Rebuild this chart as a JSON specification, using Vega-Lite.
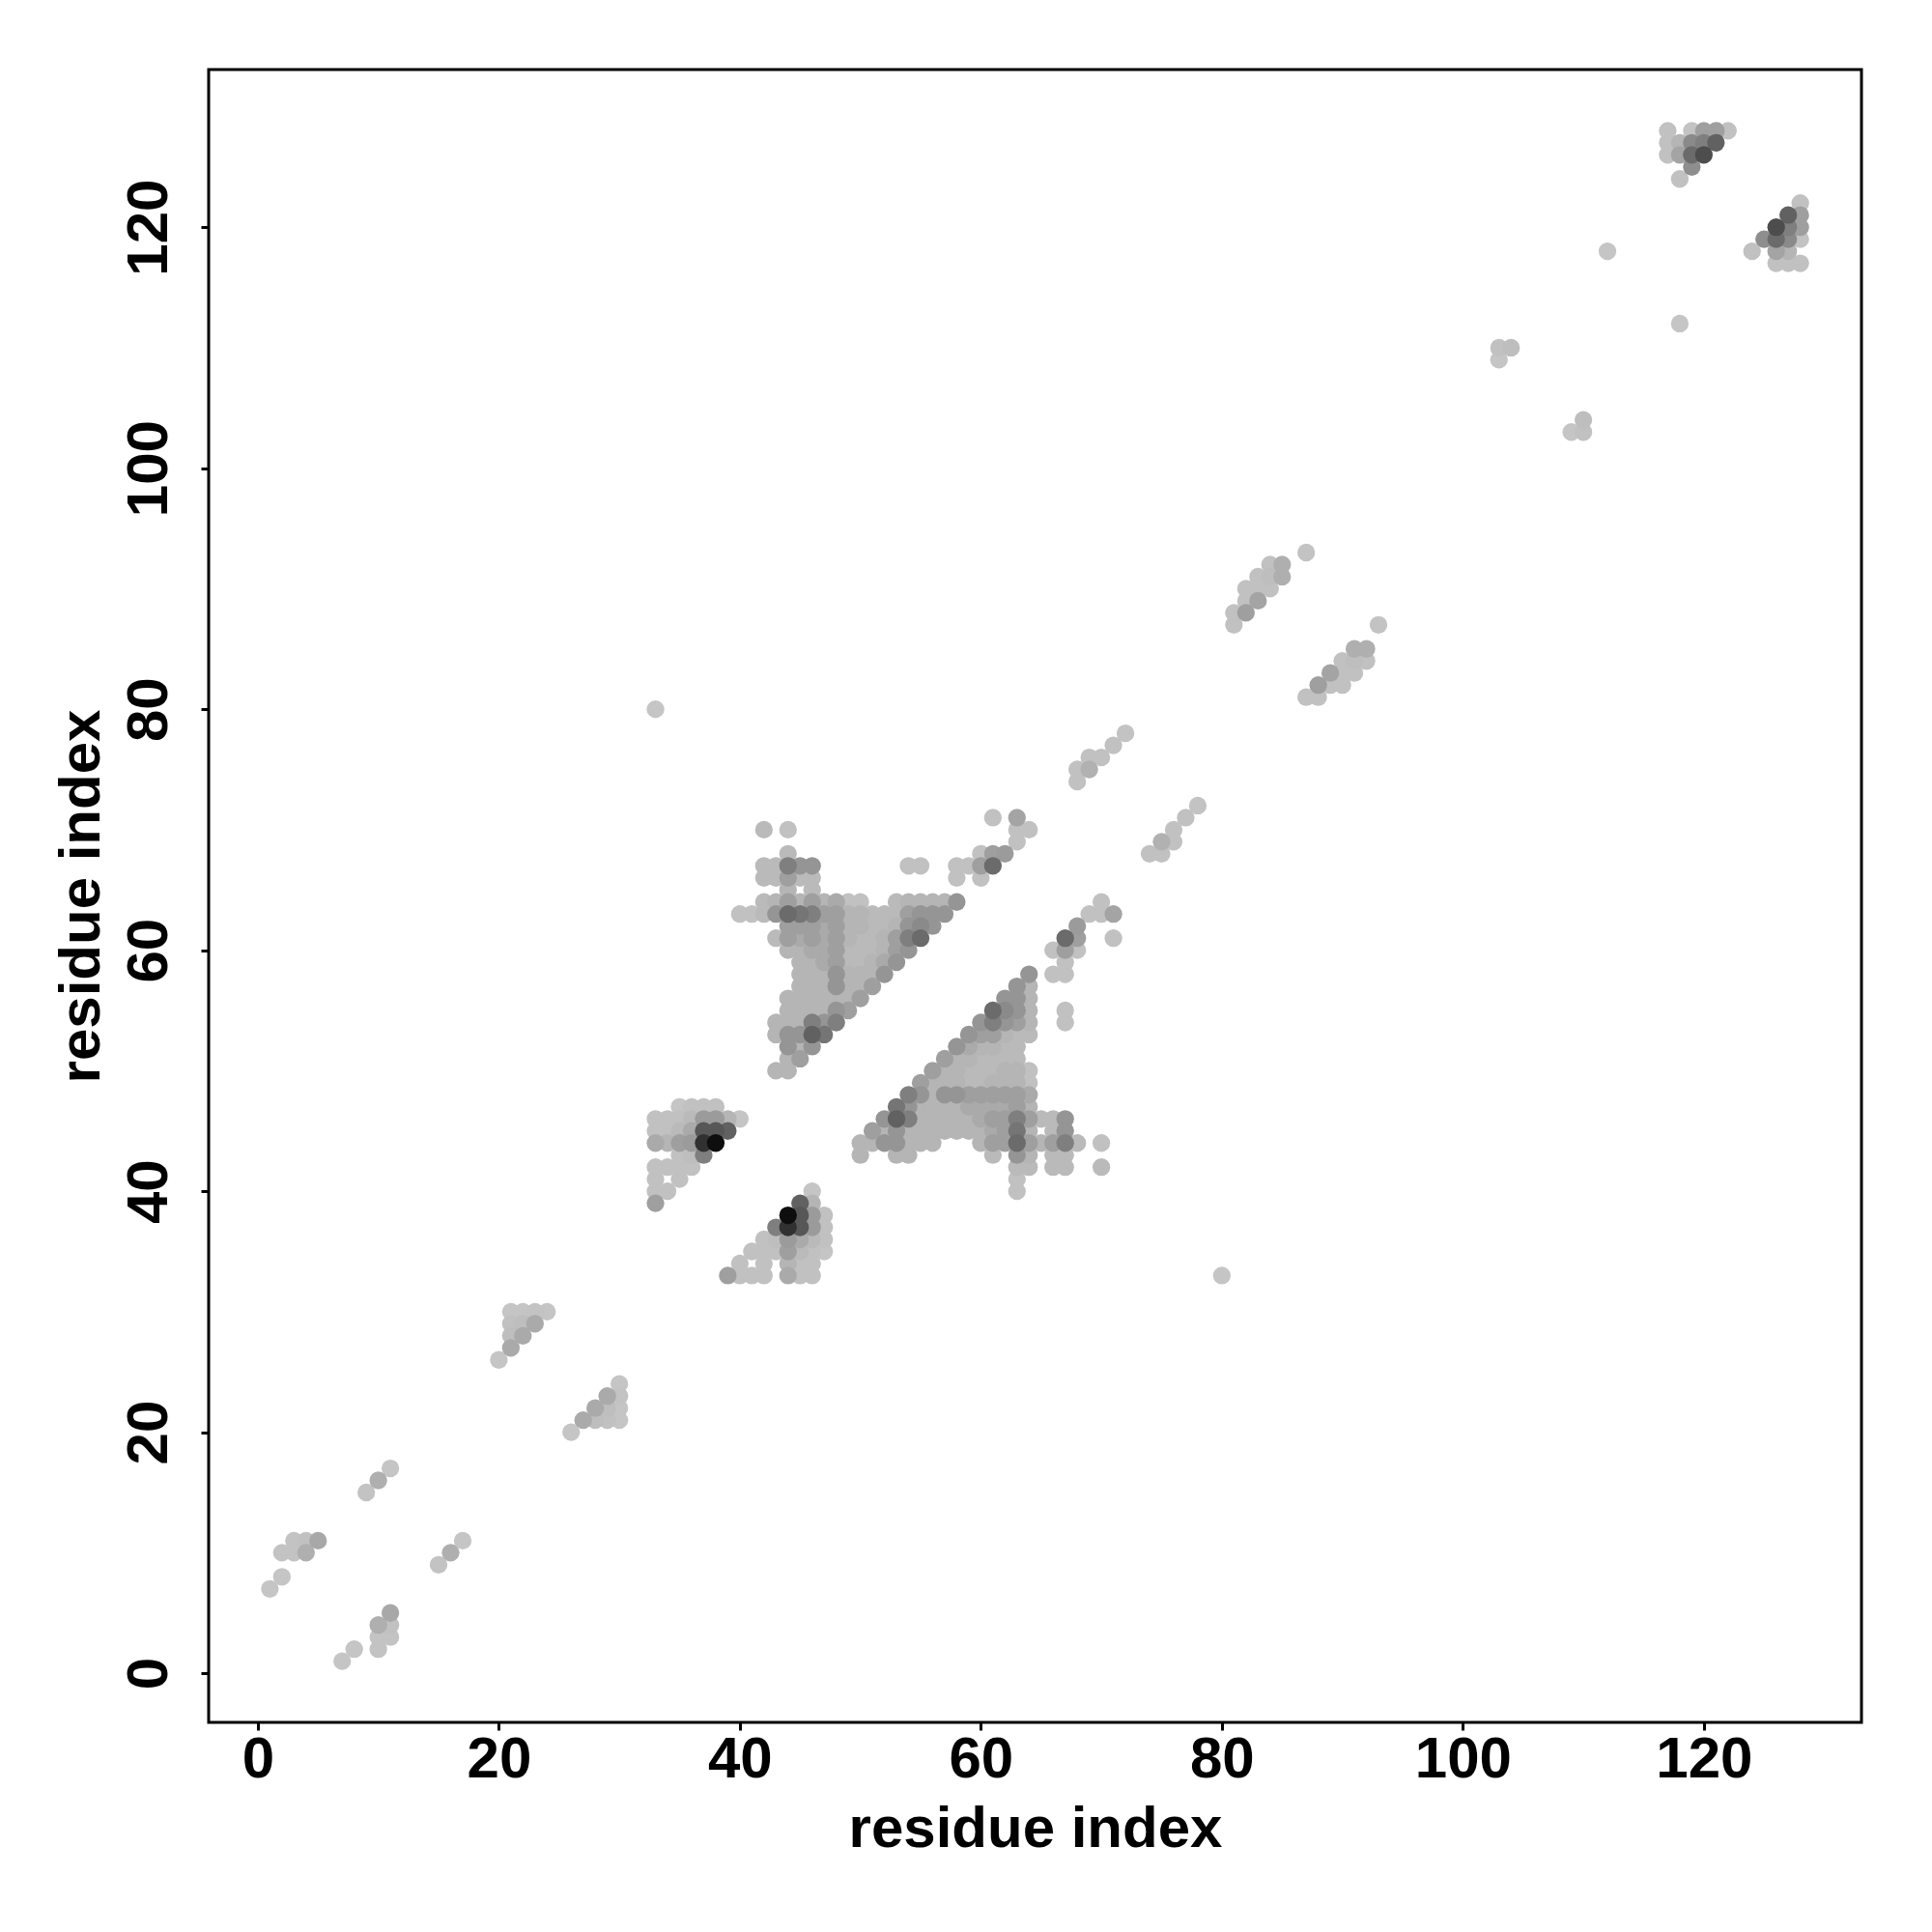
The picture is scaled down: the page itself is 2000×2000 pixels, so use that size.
{
  "$schema": "https://vega.github.io/schema/vega-lite/v6.json",
  "width": 1711,
  "height": 1711,
  "autosize": {"type": "none"},
  "padding": {"left": 216, "top": 72, "right": 73, "bottom": 217},
  "background": "white",
  "config": {"view": {"stroke": "#000000", "strokeWidth": 3}, "font": "Liberation Sans"},
  "data": {"values": [
    {"x":7,"y":1,"v":0.03},{"x":8,"y":2,"v":0.03},{"x":10,"y":2,"v":0.04},{"x":10,"y":3,"v":0.04},{"x":11,"y":3,"v":0.04},{"x":10,"y":4,"v":0.13},{"x":11,"y":4,"v":0.05},{"x":11,"y":5,"v":0.16},{"x":15,"y":9,"v":0.04},{"x":16,"y":10,"v":0.13},{"x":17,"y":11,"v":0.03},
    {"x":1,"y":7,"v":0.03},{"x":2,"y":8,"v":0.03},{"x":2,"y":10,"v":0.04},{"x":3,"y":10,"v":0.04},{"x":3,"y":11,"v":0.04},{"x":4,"y":10,"v":0.13},{"x":4,"y":11,"v":0.05},{"x":5,"y":11,"v":0.16},{"x":9,"y":15,"v":0.04},{"x":10,"y":16,"v":0.13},{"x":11,"y":17,"v":0.03},
    {"x":26,"y":20,"v":0.03},{"x":27,"y":21,"v":0.15},{"x":28,"y":21,"v":0.06},{"x":29,"y":21,"v":0.05},{"x":30,"y":21,"v":0.03},{"x":28,"y":22,"v":0.15},{"x":29,"y":22,"v":0.06},{"x":30,"y":22,"v":0.03},{"x":29,"y":23,"v":0.15},{"x":30,"y":23,"v":0.04},{"x":30,"y":24,"v":0.03},
    {"x":20,"y":26,"v":0.03},{"x":21,"y":27,"v":0.15},{"x":21,"y":28,"v":0.06},{"x":21,"y":29,"v":0.05},{"x":21,"y":30,"v":0.03},{"x":22,"y":28,"v":0.15},{"x":22,"y":29,"v":0.06},{"x":22,"y":30,"v":0.03},{"x":23,"y":29,"v":0.15},{"x":23,"y":30,"v":0.04},{"x":24,"y":30,"v":0.03},
    {"x":46,"y":40,"v":0.03},{"x":45,"y":39,"v":0.5},{"x":46,"y":39,"v":0.1},{"x":44,"y":38,"v":0.95},{"x":45,"y":38,"v":0.55},{"x":46,"y":38,"v":0.22},{"x":47,"y":38,"v":0.05},{"x":43,"y":37,"v":0.35},{"x":44,"y":37,"v":0.75},{"x":45,"y":37,"v":0.55},{"x":46,"y":37,"v":0.22},{"x":47,"y":37,"v":0.05},{"x":42,"y":36,"v":0.05},{"x":43,"y":36,"v":0.06},{"x":44,"y":36,"v":0.22},{"x":45,"y":36,"v":0.15},{"x":46,"y":36,"v":0.08},{"x":47,"y":36,"v":0.05},{"x":41,"y":35,"v":0.05},{"x":42,"y":35,"v":0.05},{"x":43,"y":35,"v":0.05},{"x":44,"y":35,"v":0.2},{"x":45,"y":35,"v":0.08},{"x":46,"y":35,"v":0.05},{"x":47,"y":35,"v":0.03},{"x":40,"y":34,"v":0.05},{"x":42,"y":34,"v":0.05},{"x":44,"y":34,"v":0.1},{"x":45,"y":34,"v":0.05},{"x":46,"y":34,"v":0.05},{"x":39,"y":33,"v":0.2},{"x":40,"y":33,"v":0.05},{"x":41,"y":33,"v":0.05},{"x":42,"y":33,"v":0.05},{"x":44,"y":33,"v":0.15},{"x":45,"y":33,"v":0.05},{"x":46,"y":33,"v":0.05},
    {"x":40,"y":46,"v":0.03},{"x":39,"y":45,"v":0.5},{"x":39,"y":46,"v":0.1},{"x":38,"y":44,"v":0.95},{"x":38,"y":45,"v":0.55},{"x":38,"y":46,"v":0.22},{"x":38,"y":47,"v":0.05},{"x":37,"y":43,"v":0.35},{"x":37,"y":44,"v":0.75},{"x":37,"y":45,"v":0.55},{"x":37,"y":46,"v":0.22},{"x":37,"y":47,"v":0.05},{"x":36,"y":42,"v":0.05},{"x":36,"y":43,"v":0.06},{"x":36,"y":44,"v":0.22},{"x":36,"y":45,"v":0.15},{"x":36,"y":46,"v":0.08},{"x":36,"y":47,"v":0.05},{"x":35,"y":41,"v":0.05},{"x":35,"y":42,"v":0.05},{"x":35,"y":43,"v":0.05},{"x":35,"y":44,"v":0.2},{"x":35,"y":45,"v":0.08},{"x":35,"y":46,"v":0.05},{"x":35,"y":47,"v":0.03},{"x":34,"y":40,"v":0.05},{"x":34,"y":42,"v":0.05},{"x":34,"y":44,"v":0.1},{"x":34,"y":45,"v":0.05},{"x":34,"y":46,"v":0.05},{"x":33,"y":39,"v":0.2},{"x":33,"y":40,"v":0.05},{"x":33,"y":41,"v":0.05},{"x":33,"y":42,"v":0.05},{"x":33,"y":44,"v":0.15},{"x":33,"y":45,"v":0.05},{"x":33,"y":46,"v":0.05},
    {"x":64,"y":58,"v":0.25},{"x":63,"y":57,"v":0.25},{"x":64,"y":57,"v":0.1},{"x":62,"y":56,"v":0.25},{"x":63,"y":56,"v":0.25},{"x":64,"y":56,"v":0.1},{"x":61,"y":55,"v":0.45},{"x":62,"y":55,"v":0.3},{"x":63,"y":55,"v":0.25},{"x":64,"y":55,"v":0.1},{"x":60,"y":54,"v":0.25},{"x":61,"y":54,"v":0.35},{"x":62,"y":54,"v":0.25},{"x":63,"y":54,"v":0.2},{"x":64,"y":54,"v":0.1},{"x":59,"y":53,"v":0.25},{"x":60,"y":53,"v":0.2},{"x":61,"y":53,"v":0.2},{"x":62,"y":53,"v":0.1},{"x":63,"y":53,"v":0.08},{"x":64,"y":53,"v":0.08},{"x":58,"y":52,"v":0.25},{"x":59,"y":52,"v":0.15},{"x":60,"y":52,"v":0.1},{"x":61,"y":52,"v":0.1},{"x":62,"y":52,"v":0.08},{"x":63,"y":52,"v":0.08},{"x":57,"y":51,"v":0.2},{"x":58,"y":51,"v":0.1},{"x":59,"y":51,"v":0.1},{"x":60,"y":51,"v":0.08},{"x":61,"y":51,"v":0.08},{"x":62,"y":51,"v":0.08},{"x":63,"y":51,"v":0.08},{"x":56,"y":50,"v":0.2},{"x":57,"y":50,"v":0.1},{"x":58,"y":50,"v":0.1},{"x":59,"y":50,"v":0.08},{"x":60,"y":50,"v":0.08},{"x":61,"y":50,"v":0.08},{"x":62,"y":50,"v":0.1},{"x":63,"y":50,"v":0.1},{"x":64,"y":50,"v":0.05},{"x":55,"y":49,"v":0.2},{"x":56,"y":49,"v":0.1},{"x":57,"y":49,"v":0.1},{"x":58,"y":49,"v":0.1},{"x":59,"y":49,"v":0.08},{"x":60,"y":49,"v":0.08},{"x":61,"y":49,"v":0.1},{"x":62,"y":49,"v":0.1},{"x":63,"y":49,"v":0.1},{"x":64,"y":49,"v":0.05},{"x":54,"y":48,"v":0.35},{"x":55,"y":48,"v":0.25},{"x":56,"y":48,"v":0.1},{"x":57,"y":48,"v":0.25},{"x":58,"y":48,"v":0.25},{"x":59,"y":48,"v":0.2},{"x":60,"y":48,"v":0.2},{"x":61,"y":48,"v":0.2},{"x":62,"y":48,"v":0.2},{"x":63,"y":48,"v":0.2},{"x":64,"y":48,"v":0.15},{"x":53,"y":47,"v":0.4},{"x":54,"y":47,"v":0.25},{"x":55,"y":47,"v":0.1},{"x":56,"y":47,"v":0.1},{"x":57,"y":47,"v":0.1},{"x":58,"y":47,"v":0.1},{"x":59,"y":47,"v":0.15},{"x":60,"y":47,"v":0.15},{"x":61,"y":47,"v":0.15},{"x":62,"y":47,"v":0.15},{"x":63,"y":47,"v":0.2},{"x":64,"y":47,"v":0.1},{"x":52,"y":46,"v":0.25},{"x":53,"y":46,"v":0.5},{"x":54,"y":46,"v":0.35},{"x":55,"y":46,"v":0.1},{"x":56,"y":46,"v":0.1},{"x":57,"y":46,"v":0.1},{"x":58,"y":46,"v":0.1},{"x":59,"y":46,"v":0.1},{"x":60,"y":46,"v":0.15},{"x":61,"y":46,"v":0.2},{"x":62,"y":46,"v":0.2},{"x":63,"y":46,"v":0.35},{"x":64,"y":46,"v":0.2},{"x":65,"y":46,"v":0.08},{"x":66,"y":46,"v":0.08},{"x":67,"y":46,"v":0.25},{"x":51,"y":45,"v":0.2},{"x":52,"y":45,"v":0.1},{"x":53,"y":45,"v":0.25},{"x":54,"y":45,"v":0.1},{"x":55,"y":45,"v":0.1},{"x":56,"y":45,"v":0.1},{"x":57,"y":45,"v":0.1},{"x":58,"y":45,"v":0.1},{"x":59,"y":45,"v":0.1},{"x":60,"y":45,"v":0.1},{"x":61,"y":45,"v":0.15},{"x":62,"y":45,"v":0.2},{"x":63,"y":45,"v":0.4},{"x":64,"y":45,"v":0.1},{"x":66,"y":45,"v":0.08},{"x":67,"y":45,"v":0.25},{"x":50,"y":44,"v":0.1},{"x":51,"y":44,"v":0.1},{"x":52,"y":44,"v":0.25},{"x":53,"y":44,"v":0.25},{"x":54,"y":44,"v":0.1},{"x":55,"y":44,"v":0.1},{"x":56,"y":44,"v":0.1},{"x":60,"y":44,"v":0.1},{"x":61,"y":44,"v":0.2},{"x":62,"y":44,"v":0.2},{"x":63,"y":44,"v":0.45},{"x":64,"y":44,"v":0.2},{"x":65,"y":44,"v":0.1},{"x":66,"y":44,"v":0.2},{"x":67,"y":44,"v":0.35},{"x":68,"y":44,"v":0.08},{"x":70,"y":44,"v":0.05},{"x":50,"y":43,"v":0.1},{"x":53,"y":43,"v":0.1},{"x":54,"y":43,"v":0.1},{"x":61,"y":43,"v":0.08},{"x":63,"y":43,"v":0.25},{"x":64,"y":43,"v":0.1},{"x":66,"y":43,"v":0.08},{"x":67,"y":43,"v":0.08},{"x":63,"y":42,"v":0.08},{"x":64,"y":42,"v":0.08},{"x":66,"y":42,"v":0.08},{"x":67,"y":42,"v":0.08},{"x":70,"y":42,"v":0.08},{"x":63,"y":41,"v":0.05},{"x":63,"y":40,"v":0.05},
    {"x":58,"y":64,"v":0.25},{"x":57,"y":63,"v":0.25},{"x":57,"y":64,"v":0.1},{"x":56,"y":62,"v":0.25},{"x":56,"y":63,"v":0.25},{"x":56,"y":64,"v":0.1},{"x":55,"y":61,"v":0.45},{"x":55,"y":62,"v":0.3},{"x":55,"y":63,"v":0.25},{"x":55,"y":64,"v":0.1},{"x":54,"y":60,"v":0.25},{"x":54,"y":61,"v":0.35},{"x":54,"y":62,"v":0.25},{"x":54,"y":63,"v":0.2},{"x":54,"y":64,"v":0.1},{"x":53,"y":59,"v":0.25},{"x":53,"y":60,"v":0.2},{"x":53,"y":61,"v":0.2},{"x":53,"y":62,"v":0.1},{"x":53,"y":63,"v":0.08},{"x":53,"y":64,"v":0.08},{"x":52,"y":58,"v":0.25},{"x":52,"y":59,"v":0.15},{"x":52,"y":60,"v":0.1},{"x":52,"y":61,"v":0.1},{"x":52,"y":62,"v":0.08},{"x":52,"y":63,"v":0.08},{"x":51,"y":57,"v":0.2},{"x":51,"y":58,"v":0.1},{"x":51,"y":59,"v":0.1},{"x":51,"y":60,"v":0.08},{"x":51,"y":61,"v":0.08},{"x":51,"y":62,"v":0.08},{"x":51,"y":63,"v":0.08},{"x":50,"y":56,"v":0.2},{"x":50,"y":57,"v":0.1},{"x":50,"y":58,"v":0.1},{"x":50,"y":59,"v":0.08},{"x":50,"y":60,"v":0.08},{"x":50,"y":61,"v":0.08},{"x":50,"y":62,"v":0.1},{"x":50,"y":63,"v":0.1},{"x":50,"y":64,"v":0.05},{"x":49,"y":55,"v":0.2},{"x":49,"y":56,"v":0.1},{"x":49,"y":57,"v":0.1},{"x":49,"y":58,"v":0.1},{"x":49,"y":59,"v":0.08},{"x":49,"y":60,"v":0.08},{"x":49,"y":61,"v":0.1},{"x":49,"y":62,"v":0.1},{"x":49,"y":63,"v":0.1},{"x":49,"y":64,"v":0.05},{"x":48,"y":54,"v":0.35},{"x":48,"y":55,"v":0.25},{"x":48,"y":56,"v":0.1},{"x":48,"y":57,"v":0.25},{"x":48,"y":58,"v":0.25},{"x":48,"y":59,"v":0.2},{"x":48,"y":60,"v":0.2},{"x":48,"y":61,"v":0.2},{"x":48,"y":62,"v":0.2},{"x":48,"y":63,"v":0.2},{"x":48,"y":64,"v":0.15},{"x":47,"y":53,"v":0.4},{"x":47,"y":54,"v":0.25},{"x":47,"y":55,"v":0.1},{"x":47,"y":56,"v":0.1},{"x":47,"y":57,"v":0.1},{"x":47,"y":58,"v":0.1},{"x":47,"y":59,"v":0.15},{"x":47,"y":60,"v":0.15},{"x":47,"y":61,"v":0.15},{"x":47,"y":62,"v":0.15},{"x":47,"y":63,"v":0.2},{"x":47,"y":64,"v":0.1},{"x":46,"y":52,"v":0.25},{"x":46,"y":53,"v":0.5},{"x":46,"y":54,"v":0.35},{"x":46,"y":55,"v":0.1},{"x":46,"y":56,"v":0.1},{"x":46,"y":57,"v":0.1},{"x":46,"y":58,"v":0.1},{"x":46,"y":59,"v":0.1},{"x":46,"y":60,"v":0.15},{"x":46,"y":61,"v":0.2},{"x":46,"y":62,"v":0.2},{"x":46,"y":63,"v":0.35},{"x":46,"y":64,"v":0.2},{"x":46,"y":65,"v":0.08},{"x":46,"y":66,"v":0.08},{"x":46,"y":67,"v":0.25},{"x":45,"y":51,"v":0.2},{"x":45,"y":52,"v":0.1},{"x":45,"y":53,"v":0.25},{"x":45,"y":54,"v":0.1},{"x":45,"y":55,"v":0.1},{"x":45,"y":56,"v":0.1},{"x":45,"y":57,"v":0.1},{"x":45,"y":58,"v":0.1},{"x":45,"y":59,"v":0.1},{"x":45,"y":60,"v":0.1},{"x":45,"y":61,"v":0.15},{"x":45,"y":62,"v":0.2},{"x":45,"y":63,"v":0.4},{"x":45,"y":64,"v":0.1},{"x":45,"y":66,"v":0.08},{"x":45,"y":67,"v":0.25},{"x":44,"y":50,"v":0.1},{"x":44,"y":51,"v":0.1},{"x":44,"y":52,"v":0.25},{"x":44,"y":53,"v":0.25},{"x":44,"y":54,"v":0.1},{"x":44,"y":55,"v":0.1},{"x":44,"y":56,"v":0.1},{"x":44,"y":60,"v":0.1},{"x":44,"y":61,"v":0.2},{"x":44,"y":62,"v":0.2},{"x":44,"y":63,"v":0.45},{"x":44,"y":64,"v":0.2},{"x":44,"y":65,"v":0.1},{"x":44,"y":66,"v":0.2},{"x":44,"y":67,"v":0.35},{"x":44,"y":68,"v":0.08},{"x":44,"y":70,"v":0.05},{"x":43,"y":50,"v":0.1},{"x":43,"y":53,"v":0.1},{"x":43,"y":54,"v":0.1},{"x":43,"y":61,"v":0.08},{"x":43,"y":63,"v":0.25},{"x":43,"y":64,"v":0.1},{"x":43,"y":66,"v":0.08},{"x":43,"y":67,"v":0.08},{"x":42,"y":63,"v":0.08},{"x":42,"y":64,"v":0.08},{"x":42,"y":66,"v":0.08},{"x":42,"y":67,"v":0.08},{"x":42,"y":70,"v":0.08},{"x":41,"y":63,"v":0.05},{"x":40,"y":63,"v":0.05},
    {"x":66,"y":58,"v":0.05},{"x":67,"y":58,"v":0.05},{"x":67,"y":59,"v":0.05},{"x":66,"y":60,"v":0.05},{"x":67,"y":60,"v":0.2},{"x":68,"y":60,"v":0.05},{"x":67,"y":61,"v":0.45},{"x":68,"y":61,"v":0.2},{"x":71,"y":61,"v":0.05},{"x":68,"y":62,"v":0.22},{"x":69,"y":63,"v":0.05},{"x":70,"y":63,"v":0.05},{"x":71,"y":63,"v":0.18},{"x":70,"y":64,"v":0.05},{"x":67,"y":54,"v":0.05},{"x":67,"y":55,"v":0.05},
    {"x":58,"y":66,"v":0.05},{"x":58,"y":67,"v":0.05},{"x":59,"y":67,"v":0.05},{"x":60,"y":66,"v":0.05},{"x":60,"y":67,"v":0.2},{"x":60,"y":68,"v":0.05},{"x":61,"y":67,"v":0.45},{"x":61,"y":68,"v":0.2},{"x":61,"y":71,"v":0.05},{"x":62,"y":68,"v":0.22},{"x":63,"y":69,"v":0.05},{"x":63,"y":70,"v":0.05},{"x":63,"y":71,"v":0.18},{"x":64,"y":70,"v":0.05},{"x":54,"y":67,"v":0.05},{"x":55,"y":67,"v":0.05},
    {"x":74,"y":68,"v":0.05},{"x":75,"y":68,"v":0.05},{"x":75,"y":69,"v":0.12},{"x":76,"y":69,"v":0.05},{"x":76,"y":70,"v":0.05},{"x":77,"y":71,"v":0.05},{"x":78,"y":72,"v":0.04},
    {"x":68,"y":74,"v":0.05},{"x":68,"y":75,"v":0.05},{"x":69,"y":75,"v":0.12},{"x":69,"y":76,"v":0.05},{"x":70,"y":76,"v":0.05},{"x":71,"y":77,"v":0.05},{"x":72,"y":78,"v":0.04},
    {"x":87,"y":81,"v":0.05},{"x":88,"y":81,"v":0.05},{"x":88,"y":82,"v":0.2},{"x":89,"y":82,"v":0.05},{"x":90,"y":82,"v":0.05},{"x":89,"y":83,"v":0.18},{"x":90,"y":83,"v":0.05},{"x":91,"y":83,"v":0.05},{"x":90,"y":84,"v":0.05},{"x":91,"y":84,"v":0.06},{"x":92,"y":84,"v":0.05},{"x":91,"y":85,"v":0.13},{"x":92,"y":85,"v":0.13},{"x":93,"y":87,"v":0.04},
    {"x":81,"y":87,"v":0.05},{"x":81,"y":88,"v":0.05},{"x":82,"y":88,"v":0.2},{"x":82,"y":89,"v":0.05},{"x":82,"y":90,"v":0.05},{"x":83,"y":89,"v":0.18},{"x":83,"y":90,"v":0.05},{"x":83,"y":91,"v":0.05},{"x":84,"y":90,"v":0.05},{"x":84,"y":91,"v":0.06},{"x":84,"y":92,"v":0.05},{"x":85,"y":91,"v":0.13},{"x":85,"y":92,"v":0.13},{"x":87,"y":93,"v":0.04},
    {"x":80,"y":33,"v":0.03},{"x":33,"y":80,"v":0.03},
    {"x":109,"y":103,"v":0.03},{"x":110,"y":103,"v":0.05},{"x":110,"y":104,"v":0.06},{"x":103,"y":109,"v":0.03},{"x":103,"y":110,"v":0.05},{"x":104,"y":110,"v":0.06},
    {"x":118,"y":112,"v":0.03},{"x":112,"y":118,"v":0.03},
    {"x":128,"y":122,"v":0.05},{"x":127,"y":121,"v":0.5},{"x":128,"y":121,"v":0.2},{"x":126,"y":120,"v":0.6},{"x":127,"y":120,"v":0.35},{"x":128,"y":120,"v":0.2},{"x":125,"y":119,"v":0.28},{"x":126,"y":119,"v":0.45},{"x":127,"y":119,"v":0.3},{"x":128,"y":119,"v":0.04},{"x":124,"y":118,"v":0.05},{"x":126,"y":118,"v":0.18},{"x":127,"y":118,"v":0.1},{"x":126,"y":117,"v":0.05},{"x":127,"y":117,"v":0.05},{"x":128,"y":117,"v":0.05},
    {"x":122,"y":128,"v":0.05},{"x":121,"y":127,"v":0.5},{"x":121,"y":128,"v":0.2},{"x":120,"y":126,"v":0.6},{"x":120,"y":127,"v":0.35},{"x":120,"y":128,"v":0.2},{"x":119,"y":125,"v":0.28},{"x":119,"y":126,"v":0.45},{"x":119,"y":127,"v":0.3},{"x":119,"y":128,"v":0.04},{"x":118,"y":124,"v":0.05},{"x":118,"y":126,"v":0.18},{"x":118,"y":127,"v":0.1},{"x":117,"y":126,"v":0.05},{"x":117,"y":127,"v":0.05},{"x":117,"y":128,"v":0.05}
  ]},
  "mark": {"type": "circle", "size": 335, "opacity": 1},
  "encoding": {
    "x": {
      "field": "x", "type": "quantitative",
      "scale": {"domain": [-4.08, 133.08], "nice": false, "zero": false},
      "axis": {
        "title": "residue index", "values": [0, 20, 40, 60, 80, 100, 120],
        "grid": false, "domain": false,
        "tickColor": "#000000", "tickWidth": 3, "tickSize": 8,
        "labelFont": "Liberation Sans", "labelFontWeight": "bold", "labelFontSize": 60, "labelColor": "#000000",
        "labelPadding": 1.5, "labelFlush": false, "labelOverlap": false,
        "titleFont": "Liberation Sans", "titleFontWeight": "bold", "titleFontSize": 60, "titleColor": "#000000",
        "titleX": 855.5, "titleY": 128.4, "titleBaseline": "alphabetic", "titleAlign": "center"
      }
    },
    "y": {
      "field": "y", "type": "quantitative",
      "scale": {"domain": [-4.08, 133.08], "nice": false, "zero": false},
      "axis": {
        "title": "residue index", "values": [0, 20, 40, 60, 80, 100, 120],
        "grid": false, "domain": false,
        "tickColor": "#000000", "tickWidth": 3, "tickSize": 8,
        "labelFont": "Liberation Sans", "labelFontWeight": "bold", "labelFontSize": 60, "labelColor": "#000000",
        "labelAngle": -90, "labelAlign": "center", "labelBaseline": "alphabetic",
        "labelPadding": 35.7, "labelFlush": false, "labelOverlap": false,
        "titleFont": "Liberation Sans", "titleFontWeight": "bold", "titleFontSize": 60, "titleColor": "#000000",
        "titleAngle": -90, "titleX": -114, "titleY": 855.5, "titleBaseline": "alphabetic", "titleAlign": "center"
      }
    },
    "color": {"field": "v", "type": "quantitative", "scale": {"domain": [0, 1], "range": ["#cccccc", "#000000"]}, "legend": null},
    "order": {"field": "v", "type": "quantitative"}
  }
}
